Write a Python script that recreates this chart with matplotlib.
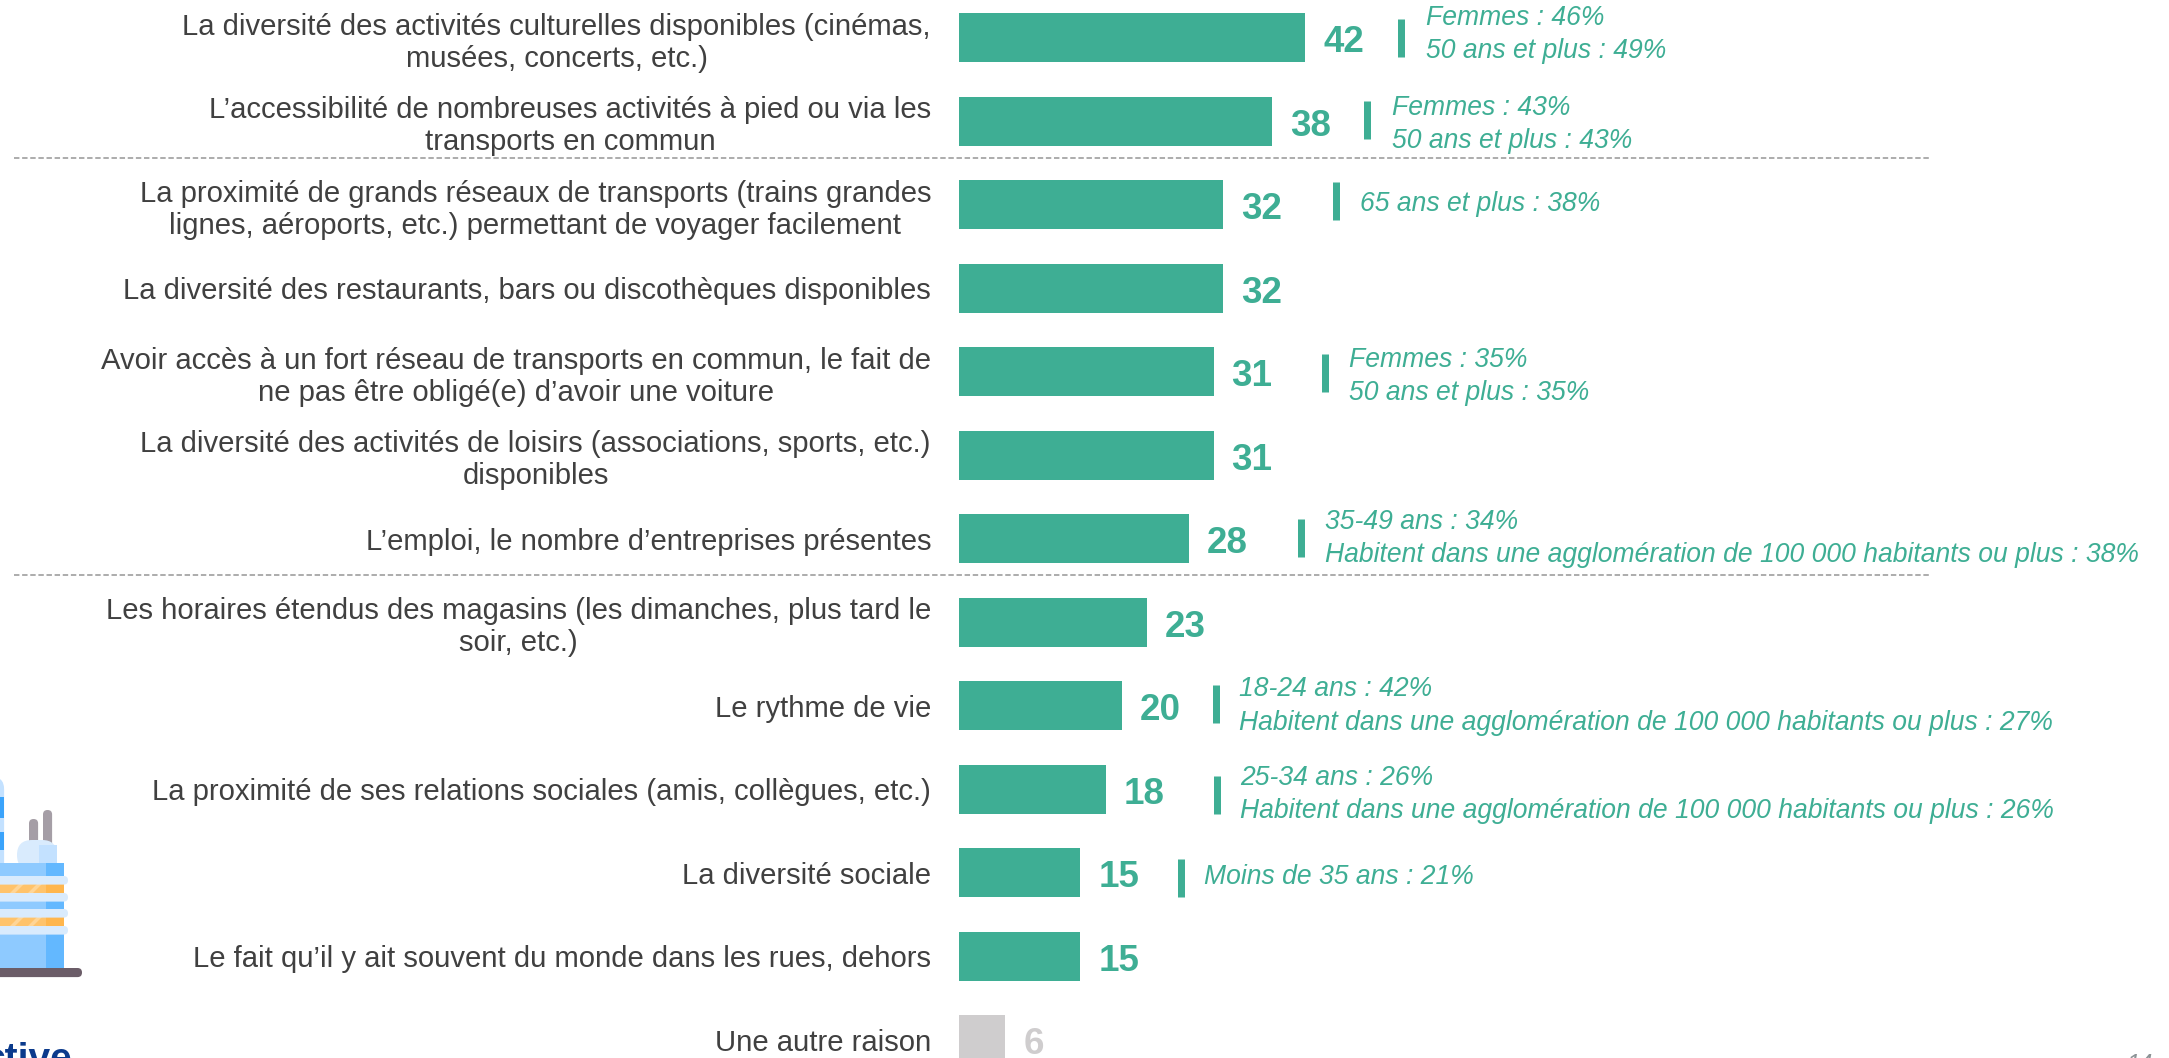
import matplotlib
matplotlib.use('Agg')
import matplotlib.pyplot as plt
from matplotlib.patches import Rectangle, FancyBboxPatch, Polygon
from matplotlib.transforms import ScaledTranslation

plt.rcParams['font.family'] = ['Liberation Sans', 'DejaVu Sans']

categories = [
    "La diversité des activités culturelles disponibles (cinémas,\nmusées, concerts, etc.)",
    "L’accessibilité de nombreuses activités à pied ou via les\ntransports en commun",
    "La proximité de grands réseaux de transports (trains grandes\nlignes, aéroports, etc.) permettant de voyager facilement",
    "La diversité des restaurants, bars ou discothèques disponibles",
    "Avoir accès à un fort réseau de transports en commun, le fait de\nne pas être obligé(e) d’avoir une voiture",
    "La diversité des activités de loisirs (associations, sports, etc.)\ndisponibles",
    "L’emploi, le nombre d’entreprises présentes",
    "Les horaires étendus des magasins (les dimanches, plus tard le\nsoir, etc.)",
    "Le rythme de vie",
    "La proximité de ses relations sociales (amis, collègues, etc.)",
    "La diversité sociale",
    "Le fait qu’il y ait souvent du monde dans les rues, dehors",
    "Une autre raison",
]
values = [42, 38, 32, 32, 31, 31, 28, 23, 20, 18, 15, 15, 6]
# bar lengths as measured on the picture, the labels are rounded
bar_lengths = [42, 38, 32, 32, 30.9, 30.9, 27.9, 22.8, 19.8, 17.8, 14.7, 14.7, 5.6]
notes = [
    "Femmes : 46%\n50 ans et plus : 49%",
    "Femmes : 43%\n50 ans et plus : 43%",
    "65 ans et plus : 38%",
    "",
    "Femmes : 35%\n50 ans et plus : 35%",
    "",
    "35-49 ans : 34%\nHabitent dans une agglomération de 100 000 habitants ou plus : 38%",
    "",
    "18-24 ans : 42%\nHabitent dans une agglomération de 100 000 habitants ou plus : 27%",
    "25-34 ans : 26%\nHabitent dans une agglomération de 100 000 habitants ou plus : 26%",
    "Moins de 35 ans : 21%",
    "",
    "",
]
separators_after = [1, 6]

# hand placed notes in the original, px from the end of each bar / down from its centre
mark_dx = [96, 95, 113, 0, 111, 0, 112, 0, 94, 111, 101, 0, 0]
mark_dy = [0, -1.5, -3.5, 0, 1.5, 0, -1, 0, -2, 5.5, 5, 0, 0]
note_dx = [121, 120, 137, 0, 135, 0, 136, 0, 117, 134, 124, 0, 0]
note_dy = [-3, 3, -1, 0, 5, 0, 0, 0, 0, 5, 4, 0, 0]

GREEN = '#3eae94'
GREY = '#cfcdce'
W, H = 2169, 1058
PX = 0.72  # points per pixel at dpi 100

fig = plt.figure(figsize=(W / 100, H / 100), dpi=100)

# bars: 8.24 px per unit, first bar centred at y=37.8, pitch 83.5 px
left = 959
ax = fig.add_axes([left / W, 0, 1 - left / W, 1])
ax.set_xlim(0, (W - left) / 8.24)
ax.set_ylim((H - 37.8) / 83.5, -37.8 / 83.5)
for s in ax.spines.values():
    s.set_visible(False)
ax.set_xticks([])

pos = list(range(len(values)))
colors = [GREEN] * (len(values) - 1) + [GREY]
ax.barh(pos, bar_lengths, height=49 / 83.5, color=colors)

ax.set_yticks(pos)
ax.set_yticklabels(categories, fontsize=21.1, color='#404040', linespacing=1.17,
                   multialignment='center')
ax.tick_params(axis='y', length=0, pad=28 * PX)

for i, v in enumerate(values):
    ax.annotate(str(v), (bar_lengths[i], i), xytext=(18 * PX, -5 * PX), textcoords='offset points',
                ha='left', va='center', fontsize=26.5, fontweight='bold', color=colors[i])
    if notes[i]:
        ax.annotate(notes[i], (bar_lengths[i], i), xytext=(note_dx[i] * PX, -note_dy[i] * PX),
                    textcoords='offset points', ha='left', va='center', fontsize=19.1,
                    style='italic', color=GREEN, linespacing=1.37, annotation_clip=False)
        shift = ScaledTranslation(mark_dx[i] / 100, -mark_dy[i] / 100, fig.dpi_scale_trans)
        ax.plot([bar_lengths[i]], [i], marker='|', markersize=38 * PX, markeredgewidth=7 * PX,
                color=GREEN, transform=ax.transData + shift)

for i in separators_after:
    ax.plot([-114.7, 118], [i + 0.435, i + 0.435], color='#a6a6a6', lw=1.3,
            linestyle=(0, (3, 1.5)), clip_on=False)

# overlay in pixel coordinates for the illustration, logo and page number
deco = fig.add_axes([0, 0, 1, 1], facecolor='none')
deco.set_xlim(0, W)
deco.set_ylim(H, 0)
deco.axis('off')

def rect(x, y, w, h, c):
    deco.add_patch(Rectangle((x, y), w, h, color=c, lw=0))

def pill(x, y, w, h, c):
    r = min(w, h) / 2
    deco.add_patch(FancyBboxPatch((x + r, y + r), max(w - 2 * r, 0.1), max(h - 2 * r, 0.1),
                                  boxstyle=f'round,pad={r}', color=c, lw=0))

# tower
pill(-20, 777, 24, 120, '#c3e1ff')
rect(0, 797, 4, 21, '#3aa3fb')
rect(0, 832, 4, 18, '#3aa3fb')
# chimneys
pill(29, 819, 9, 30, '#a59ea6')
pill(43, 810, 9, 40, '#a59ea6')
pill(17, 840, 40, 30, '#d9ebfd')
rect(39, 845, 18, 25, '#c3e1ff')
# body
rect(-5, 863, 69, 105, '#8ecaff')
rect(46, 863, 18, 105, '#63b8ff')
for y0 in (884, 917):
    rect(0, y0, 64, 9, '#ffc36b')
    rect(46, y0, 18, 9, '#ffb64d')
    for x0 in (10, 28):
        deco.add_patch(Polygon([(x0, y0 + 9), (x0 + 9, y0), (x0 + 14, y0), (x0 + 5, y0 + 9)],
                               color='#ffd596', lw=0))
for y0 in (876, 893, 909, 926):
    pill(-10, y0, 78, 8.5, '#d9ebfd')
pill(-10, 968, 92, 9, '#6b5d68')

deco.text(72, 1070, 'ctive', ha='right', va='baseline', fontsize=28, fontweight='bold',
          color='#0b3a8c', clip_on=False)
deco.text(2153, 1071, '14', ha='right', va='baseline', fontsize=17, style='italic',
          color='#8c9396')

fig.savefig('out.png', dpi=100)
